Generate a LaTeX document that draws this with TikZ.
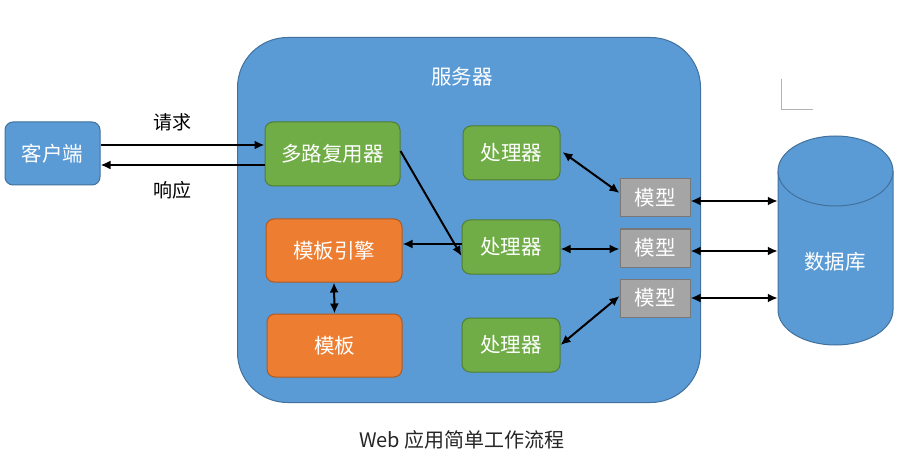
\documentclass[tikz,border=0pt]{standalone}
\usepackage{fontspec}
\newfontfamily\cjk{Noto Sans CJK SC}
\usetikzlibrary{arrows.meta}
\definecolor{cblue}{HTML}{5B9BD5}
\definecolor{cblueb}{HTML}{41719C}
\definecolor{cgreen}{HTML}{70AD47}
\definecolor{cgreenb}{HTML}{507E32}
\definecolor{corange}{HTML}{ED7D31}
\definecolor{coranged}{HTML}{AE5A21}
\definecolor{cgray}{HTML}{A5A5A5}
\definecolor{cgrayb}{HTML}{787878}
\begin{document}
\begin{tikzpicture}[x=1pt,y=-1pt,
  bigfont/.style={font=\cjk\fontsize{20.5}{24}\selectfont},
  box/.style={rounded corners=8pt, line width=1pt, text=white, bigfont, inner sep=0pt},
  bluebox/.style={box, fill=cblue, draw=cblueb},
  greenbox/.style={box, fill=cgreen, draw=cgreenb},
  orangebox/.style={box, fill=corange, draw=coranged},
  graybox/.style={box, rounded corners=0pt, fill=cgray, draw=cgrayb},
  arr/.style={-{Latex[length=10pt,width=9pt]}, line width=2pt, black},
  darr/.style={{Latex[length=10pt,width=9pt]}-{Latex[length=10pt,width=9pt]}, line width=2pt, black},
  lbl/.style={font=\cjk\fontsize{19}{22}\selectfont, text=black}
]
\useasboundingbox (0,0) rectangle (910,465);
\fill[white] (0,0) rectangle (910,465);
% crop mark
\draw[gray!60, line width=1pt] (781,79) -- (781,110) -- (813,110);
% server
\node[bluebox, rounded corners=50pt, minimum width=463pt, minimum height=365pt, anchor=north west] (server) at (237,37) {};
\node[text=white, bigfont] (stitle) at (462,77) {服务器};
% client
\node[bluebox, minimum width=95pt, minimum height=63pt] (client) at (52.5,153.5) {客户端};
% inner nodes
\node[greenbox, minimum width=135pt, minimum height=64pt] (mux) at (332.5,154) {多路复用器};
\node[orangebox, minimum width=136pt, minimum height=63pt] (engine) at (334,250.5) {模板引擎};
\node[orangebox, minimum width=135pt, minimum height=63pt] (tmpl) at (334.5,345.5) {模板};
\node[greenbox, minimum width=97pt, minimum height=54pt] (h1) at (511.5,153) {处理器};
\node[greenbox, minimum width=98pt, minimum height=54pt] (h2) at (511,247) {处理器};
\node[greenbox, minimum width=98pt, minimum height=54pt] (h3) at (511,345) {处理器};
\node[graybox, minimum width=70pt, minimum height=38pt] (m1) at (655,198) {模型};
\node[graybox, minimum width=70pt, minimum height=38pt] (m2) at (655,248) {模型};
\node[graybox, minimum width=70pt, minimum height=38pt] (m3) at (655,298) {模型};
% database cylinder
\fill[cblue] (778,171) rectangle (893,310);
\fill[cblue] (835.5,310) ellipse [x radius=57.5, y radius=35];
\draw[cblueb, line width=1pt] (778,171) -- (778,310) arc [start angle=180, end angle=0, x radius=57.5, y radius=35] -- (893,171);
\filldraw[fill=cblue, draw=cblueb, line width=1pt] (835.5,171) ellipse [x radius=57.5, y radius=35];
\node[minimum width=115pt, minimum height=209pt, inner sep=0pt, text=white, bigfont, text depth=0pt] (db) at (835.5,240.5) {};
\node[text=white, bigfont] (dbl) at (835,262) {数据库};
% connectors
\draw[arr] (client.east |- 0,145) -- (mux.west |- 0,145);
\draw[arr] (mux.west |- 0,165) -- (client.east |- 0,165);
\node[lbl] (req) at (172,122) {请求};
\node[lbl] (resp) at (172,190) {响应};
\draw[arr] ([yshift=3pt]mux.east) -- ([yshift=-9pt]h2.west);
\draw[arr] (h2.west |- 0,244) -- (engine.east |- 0,244);
\draw[darr] (engine.south) -- (tmpl.north);
\draw[darr] ([xshift=2pt,yshift=1pt]h1.east) -- ([yshift=5pt]m1.west);
\draw[darr] (h2.east |- 0,249) -- (m2.west |- 0,249);
\draw[darr] (h3.east) -- ([yshift=2pt]m3.west);
\coordinate (dbw1) at (db.west |- 0,201);
\coordinate (dbw2) at (db.west |- 0,251);
\coordinate (dbw3) at (db.west |- 0,298);
\draw[darr] (m1.east |- 0,201) -- (dbw1);
\draw[darr] (m2.east |- 0,251) -- (dbw2);
\draw[darr] (m3.east |- 0,298) -- (dbw3);
% caption
\node[font=\cjk\fontsize{20}{24}\selectfont, text=black!85] (cap) at (462,440) {Web 应用简单工作流程};
\end{tikzpicture}
\end{document}
